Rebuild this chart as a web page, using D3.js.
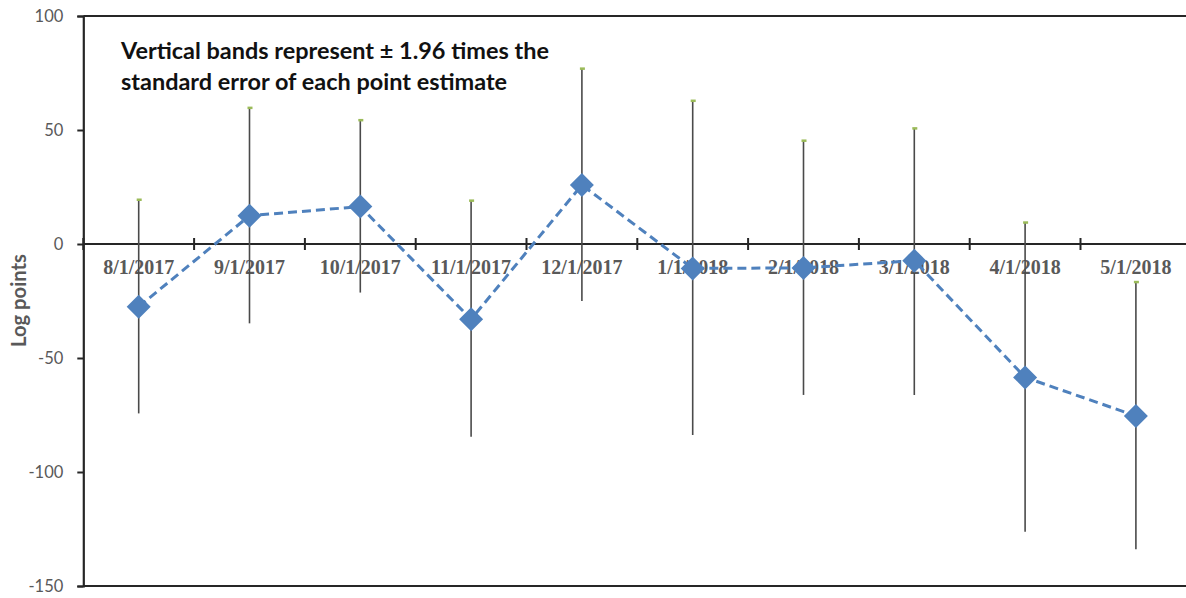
<!DOCTYPE html>
<html>
<head>
<meta charset="utf-8">
<script src="https://cdn.jsdelivr.net/npm/d3@7/dist/d3.min.js"></script>
<style>
  html, body { margin: 0; padding: 0; background: #ffffff; }
  svg { display: block; }
</style>
</head>
<body>
<svg id="chart" width="1186" height="598"></svg>
<script>
const categories = ["8/1/2017","9/1/2017","10/1/2017","11/1/2017","12/1/2017","1/1/2018","2/1/2018","3/1/2018","4/1/2018","5/1/2018"];
const estimates = [-27.5, 12.4, 16.4, -33.0, 25.9, -10.7, -10.5, -7.3, -58.5, -75.4];
const upper    = [19.3, 59.6, 54.2, 18.9, 76.8, 62.7, 45.2, 50.6, 9.3, -16.8];
const lower    = [-74.3, -34.8, -21.3, -84.5, -25.0, -83.8, -66.2, -66.2, -126.2, -133.9];
const yTicks = [100, 50, 0, -50, -100, -150];
const yLabel = "Log points";
const noteLines = ["Vertical bands represent \u00B1 1.96 times the", "standard error of each point estimate"];

(function () {
const svg = d3.select("#chart");
const mLeft = 83.3, mRight = 1191.3, mTop = 16, mBottom = 586;

const x = d3.scaleBand().domain(categories).range([mLeft, mRight]).paddingInner(0).paddingOuter(0);
const y = d3.scaleLinear().domain([-150, 100]).range([mBottom, mTop]);
const cx = d => x(d) + x.bandwidth() / 2;

const axisColor = "#262626";
const textGray = "#595959";
const sans = "Lato, 'Noto Sans', sans-serif";

// fit a text element's font size so its rendered length matches a target
function fitFont(sel, base, target) {
  sel.style("font-size", base + "px");
  const len = sel.node().getComputedTextLength();
  if (len > 0) sel.style("font-size", (base * target / len).toFixed(2) + "px");
}

// frame lines (top and bottom)
svg.append("line").attr("x1", mLeft).attr("x2", 1186).attr("y1", y(100)).attr("y2", y(100))
  .attr("stroke", axisColor).attr("stroke-width", 2);
svg.append("line").attr("x1", mLeft).attr("x2", 1186).attr("y1", y(-150)).attr("y2", y(-150))
  .attr("stroke", axisColor).attr("stroke-width", 2);

// y axis
const yAxis = d3.axisLeft(y).tickValues(yTicks).tickSize(6).tickPadding(14).tickFormat(d => String(d));
const gy = svg.append("g").attr("transform", `translate(${mLeft},0)`).call(yAxis);
gy.select(".domain").attr("stroke", axisColor).attr("stroke-width", 2.2);
gy.selectAll(".tick line").attr("stroke", axisColor).attr("stroke-width", 2);
gy.selectAll(".tick text").attr("fill", textGray).style("font-family", sans).style("font-size", "16.5px");

const yl = svg.append("text").attr("transform", `translate(26,${(253+348)/2}) rotate(-90)`)
  .attr("text-anchor", "middle").attr("fill", textGray)
  .style("font-family", sans).style("font-weight", "bold")
  .text(yLabel);
fitFont(yl, 18, 93);

// category labels (under the marks)
const xAxis = d3.axisBottom(x).tickSize(0).tickPadding(16);
const gx = svg.append("g").attr("transform", `translate(0,${y(0)})`).call(xAxis);
gx.select(".domain").remove();
gx.selectAll(".tick text").attr("fill", textGray)
  .style("font-family", "'Liberation Serif', 'Times New Roman', serif").style("font-size", "20px").style("font-weight", "bold");

// zero axis line with boundary ticks
svg.append("line").attr("x1", mLeft).attr("x2", 1186).attr("y1", y(0)).attr("y2", y(0))
  .attr("stroke", axisColor).attr("stroke-width", 2.2);
const bounds = categories.map(c => x(c)).concat([mRight]);
svg.append("g").selectAll("line").data(bounds).join("line")
  .attr("x1", d => d).attr("x2", d => d).attr("y1", y(0) - 6).attr("y2", y(0) + 6)
  .attr("stroke", axisColor).attr("stroke-width", 2);

// error bars
const bars = svg.append("g");
bars.selectAll("line").data(categories).join("line")
  .attr("x1", d => cx(d)).attr("x2", d => cx(d))
  .attr("y1", (d, i) => y(upper[i])).attr("y2", (d, i) => y(lower[i]))
  .attr("stroke", "#4a4a4a").attr("stroke-width", 1.6);
bars.selectAll("rect").data(categories).join("rect")
  .attr("x", d => cx(d) - 2).attr("y", (d, i) => y(upper[i]) - 1.5)
  .attr("width", 5).attr("height", 2.5).attr("fill", "#9BBB59");

// dashed line
const line = d3.line().x((d, i) => cx(categories[i])).y(d => y(d));
svg.append("path").datum(estimates).attr("d", line).attr("fill", "none")
  .attr("stroke", "#4F81BD").attr("stroke-width", 3).attr("stroke-dasharray", "9,5");

// diamonds
const r = 12;
svg.append("g").selectAll("path").data(estimates).join("path")
  .attr("d", (d, i) => {
    const px = cx(categories[i]), py = y(d);
    return `M${px},${py - r}L${px + r},${py}L${px},${py + r}L${px - r},${py}Z`;
  })
  .attr("fill", "#4F81BD");

// annotation
const note = svg.append("text").attr("fill", "#111")
  .style("font-family", sans).style("font-weight", "bold");
const t1 = note.append("tspan").attr("x", 121).attr("y", 59).text(noteLines[0]);
note.append("tspan").attr("x", 121).attr("y", 90).text(noteLines[1]);
note.style("font-size", "20px");
const l1 = t1.node().getComputedTextLength();
if (l1 > 0) note.style("font-size", (20 * 428 / l1).toFixed(2) + "px");
})();
</script>
</body>
</html>
